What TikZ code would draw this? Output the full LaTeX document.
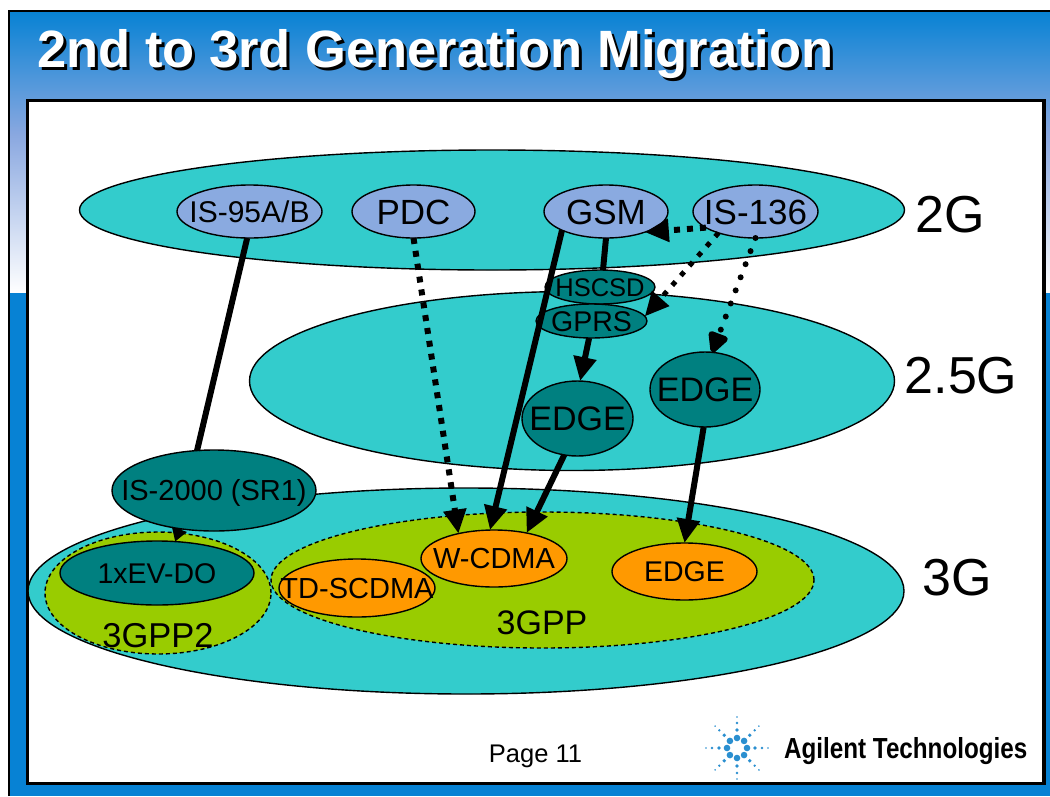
\documentclass[tikz,border=0pt]{standalone}
\usepackage{fontspec}
\setmainfont{Liberation Sans}
\usetikzlibrary{shapes.geometric,arrows.meta}

\definecolor{slideblue}{HTML}{0782D4}
\definecolor{midblue}{HTML}{8AA8E0}
\definecolor{bubble}{HTML}{33CCCC}
\definecolor{phone}{HTML}{8AAAE0}
\definecolor{darkteal}{HTML}{008080}
\definecolor{amber}{HTML}{FF9900}
\definecolor{olive}{HTML}{99CC00}
\definecolor{starblue}{HTML}{2A8FD0}

% text stays centred and may run past the oval
\newcommand{\ovaltext}[2]{\fontsize{#1}{#1}\selectfont\smash{\makebox[0pt]{\raisebox{-.36em}{#2}}}}

\tikzset{
  oval/.style n args={3}{ellipse, draw=black, line width=1.4pt, inner sep=0pt, outer sep=0pt,
    fill=#1, minimum width=#2, minimum height=#3},
  group/.style n args={2}{oval={olive}{#1}{#2}, dashed, dash pattern=on 4pt off 3pt},
  genlabel/.style={font=\fontsize{52}{52}\selectfont, inner sep=0pt},
  link/.style={line width=6pt, -{Triangle[length=24pt,width=22pt]}},
  plain/.style={line width=6pt},
  squaredots/.style={line width=6pt, dash pattern=on 6pt off 7pt, -{Triangle[length=24pt,width=22pt]}},
  rounddots/.style={line width=6pt, line cap=round, dash pattern=on 0pt off 14pt,
    -{Triangle[length=24pt,width=22pt,round=false]}},
  diamonddots/.style={line width=5pt, dash pattern=on 5pt off 8pt, -{Triangle[length=24pt,width=22pt]}}
}

\begin{document}
\begin{tikzpicture}[x=1pt, y=-1pt]
  \useasboundingbox (0, 0) rectangle (1050, 796);

  % slide background
  \shade[top color=slideblue, bottom color=midblue] (8, 11) rectangle (1050, 135);
  \shade[top color=midblue, bottom color=white] (8, 135) rectangle (1050, 293);
  \fill[slideblue] (8, 293) rectangle (1050, 796);
  \draw[line width=2.5pt] (9, 796) -- (9, 11) -- (1050, 11);
  \draw[line width=3.5pt, fill=white] (27.5, 100.5) rectangle (1044, 783.5);

  \node[anchor=west, inner sep=0pt, text=black, font=\bfseries\fontsize{52.5}{52.5}\selectfont] (titleshadow) at (40, 57) {2nd to 3rd Generation Migration};
  \node[anchor=west, inner sep=0pt, text=white, font=\bfseries\fontsize{52.5}{52.5}\selectfont] (title) at (37, 54) {2nd to 3rd Generation Migration};

  % generations
  \node[oval={bubble}{825pt}{120pt}] (gen2) at (492, 210) {};
  \node[oval={bubble}{645pt}{179pt}] (gen25) at (572, 381) {};
  \node[oval={bubble}{876pt}{206pt}] (gen3) at (466, 591) {};
  \node[genlabel] (lab2) at (950, 215) {2G};
  \node[genlabel] (lab25) at (961, 376) {2.5G};
  \node[genlabel] (lab3) at (957, 578) {3G};

  \node[group={226pt}{122pt}] (gpp2) at (158, 593) {};
  \node[group={543pt}{136pt}] (gpp) at (542.5, 580) {};
  \node[inner sep=0pt, font=\fontsize{34.5}{34.5}\selectfont] (labgpp2) at (158, 636) {3GPP2};
  \node[inner sep=0pt, font=\fontsize{34}{34}\selectfont] (labgpp) at (542, 623) {3GPP};

  % 2G
  \node[oval={phone}{145pt}{53pt}] (is95) at (249.5, 211.5) {\ovaltext{30}{IS-95A/B}};
  \node[oval={phone}{123pt}{53pt}] (pdc) at (413.5, 211.5) {\ovaltext{35}{PDC}};
  \node[oval={phone}{124pt}{53pt}] (gsm) at (606, 211.5) {\ovaltext{35}{GSM}};
  \node[oval={phone}{125pt}{53pt}] (is136) at (755.5, 211.5) {\ovaltext{35}{IS-136}};

  % 2.5G
  \node[oval={darkteal}{110pt}{34pt}] (hscsd) at (600, 287) {\ovaltext{25.5}{HSCSD}};
  \node[oval={darkteal}{111pt}{34pt}] (gprs) at (591.5, 321) {\ovaltext{28.5}{GPRS}};
  \node[oval={darkteal}{111pt}{75pt}] (edgeleft) at (577.5, 418.5) {\ovaltext{34}{EDGE}};
  \node[oval={darkteal}{110pt}{75pt}] (edgeright) at (705, 389.5) {\ovaltext{34}{EDGE}};

  % 3G
  \node[oval={darkteal}{204pt}{81pt}] (is2000) at (214, 490.5) {\ovaltext{29}{IS-2000 (SR1)}};
  \node[oval={darkteal}{194pt}{64pt}] (evdo) at (157, 573) {\ovaltext{28.5}{1xEV-DO}};
  \node[oval={amber}{156pt}{58pt}] (tdscdma) at (357, 588) {\ovaltext{29}{TD-SCDMA}};
  \node[oval={amber}{146pt}{57pt}] (wcdma) at (494, 558.5) {\ovaltext{29}{W-CDMA}};
  \node[oval={amber}{145pt}{57pt}] (edgethree) at (684.5, 571.5) {\ovaltext{28.5}{EDGE}};

  \draw[plain] (is95.265) -- (is2000.113);
  \draw[squaredots] (pdc.south) -- (wcdma.145);
  \draw[link] (gsm.203) -- (wcdma.98);
  \draw[plain] (gsm.270) -- (hscsd.80);
  \draw[link] (gprs.262) -- (edgeleft.86);
  \draw[squaredots] (is136.198) -- (gsm.332);
  \draw[diamonddots] (is136.210) -- (gprs.5);
  \draw[rounddots] (is136.270) -- (edgeright.79);
  \draw[link] (edgeleft.250) -- (wcdma.38);
  \draw[link] (edgeright.268) -- (edgethree.north);
  \draw[line width=5pt, -{Triangle[length=13pt,width=15pt]}] (is2000.228) -- (evdo.60);

  % logo
  \coordinate (star) at (737, 748);
  \foreach \a in {0, 45, ..., 315} {
    \foreach \r/\s in {10/3.3, 18/1.9, 25/1.3, 31/0.9} {
      \fill[starblue] (star) ++(\a:\r pt) circle[radius=\s pt];
    }
  }
  \node[anchor=west, inner sep=0pt] (agilent) at (784, 751) {\fontsize{29}{29}\selectfont\bfseries\scalebox{0.835}[1]{Agilent Technologies}};
  \node[inner sep=0pt, font=\fontsize{25.5}{25.5}\selectfont] (page) at (535.5, 756) {Page 11};
\end{tikzpicture}
\end{document}
